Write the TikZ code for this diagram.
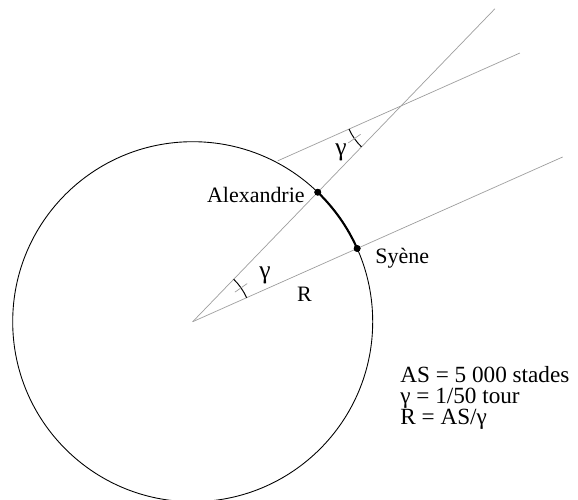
\documentclass[tikz,border=0pt]{standalone}
\usepackage{fontspec}
\setmainfont{Liberation Serif}
\usepackage{tikz}
\usetikzlibrary{calc}
\definecolor{raygray}{gray}{0.62}
\newcommand{\gam}{{\fontsize{14.5}{14.5}\selectfont γ}}
\tikzset{
  rline/.style={draw=raygray,line width=0.4pt},
  rtick/.style={draw=raygray,line width=0.4pt},
  rangle/.style={draw=black,line width=0.55pt},
  rdot/.style={circle,fill=black,inner sep=0pt,minimum size=1.35mm},
  rlabel/.style={font=\fontsize{12.5}{11.1}\selectfont,inner sep=0pt}
}

\begin{document}
\begin{tikzpicture}
  \useasboundingbox (-3.854,-3.546) rectangle (7.706,6.434);
  % earth
  \coordinate (O) at (0,0);
  \draw[line width=0.5pt] (O) circle (3.6);
  % sun rays
  \coordinate (alexfar) at (46:8.7);
  \coordinate (syenefar) at (24:8.1);
  \coordinate (X) at (46:6.0);
  \coordinate (p1) at ($(X)+(204:2.7)$);
  \coordinate (p2) at ($(X)+(24:2.6)$);
  \draw[rline] (O) -- (alexfar);
  \draw[rline] (O) -- (syenefar);
  \draw[rline] (p1) -- (p2);
  % arc AS
  \node[rdot] (syene) at (24:3.6) {};
  \node[rdot] (alex) at (46:3.6) {};
  \draw[line width=1.2pt] (syene.center) arc (24:46:3.6);
  \node[rdot] at (syene) {};
  \node[rdot] at (alex) {};
  % angles
  \draw[rangle] (24:1.18) arc (24:46:1.18);
  \draw[rtick] (35:1.03) -- (35:1.33);
  \draw[rangle] ($(X)+(204:1.14)$) arc (204:226:1.14);
  \draw[rtick] ($(X)+(215:0.99)$) -- ($(X)+(215:1.29)$);
  % labels
  \node[rlabel,anchor=base east] (alexlbl) at (2.246,2.38) {Alexandrie};
  \node[rlabel,anchor=base west] (syenelbl) at (3.646,1.168) {Syène};
  \node[rlabel] (gammalow) at (1.446,0.934) {\gam};
  \node[rlabel] (gammahigh) at (2.966,3.394) {\gam};
  \node[rlabel] (rlbl) at (2.236,0.554) {R};
  \node[rlabel,font=\fontsize{13.2}{12}\selectfont,anchor=base west,align=left] (notes) at (4.146,-2.058)
    {AS = 5 000 stades\\γ = 1/50 tour\\R = AS/γ};
\end{tikzpicture}
\end{document}
